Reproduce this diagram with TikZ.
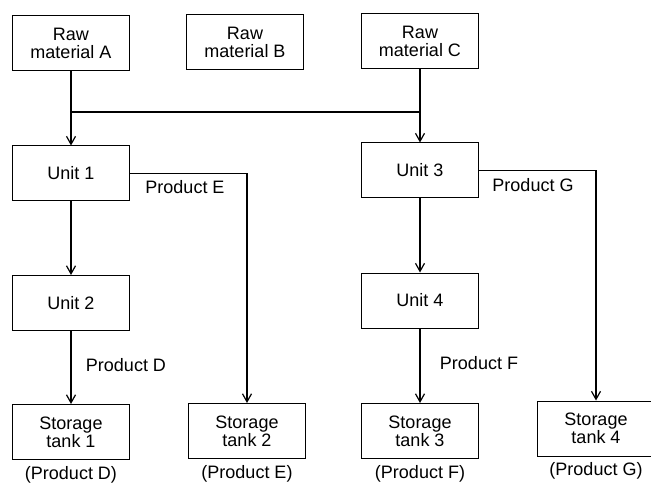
\documentclass[tikz,border=0pt]{standalone}
\usepackage{fontspec}
\setmainfont{Liberation Sans}
\usepackage{tikz}
\usetikzlibrary{positioning,arrows.meta}
\tikzset{
  unitbox/.style={draw,line width=1pt,minimum width=117pt,minimum height=55pt,
    inner sep=0pt,align=center,font=\fontsize{18}{18}\selectfont},
  flow/.style={line width=1.6pt,-{Straight Barb[length=8pt,width=9pt,line width=1.2pt]}},
  pipe/.style={line width=1.6pt},
  prodlabel/.style={font=\fontsize{18}{18}\selectfont,inner sep=0pt}
}

\begin{document}
\begin{tikzpicture}[x=1pt,y=-1pt]
\useasboundingbox (0,0) rectangle (651,484);
\node[unitbox] (rawA) at (71,43) {Raw\\material A};
\node[unitbox] (rawB) at (245,42) {Raw\\material B};
\node[unitbox] (rawC) at (420,41) {Raw\\material C};
\node[unitbox] (unit1) at (71,173.5) {Unit 1};
\node[unitbox] (unit2) at (71,303) {Unit 2};
\node[unitbox] (unit3) at (420,170.5) {Unit 3};
\node[unitbox] (unit4) at (420,300.5) {Unit 4};
\node[unitbox] (tank1) at (71,432) {Storage\\tank 1};
\node[unitbox] (tank2) at (247,431) {Storage\\tank 2};
\node[unitbox] (tank3) at (420,431) {Storage\\tank 3};
\node[unitbox] (tank4) at (596,428.5) {Storage\\tank 4};
\node[prodlabel,below=6pt of tank1] (capD) {(Product D)};
\node[prodlabel,below=6pt of tank2] (capE) {(Product E)};
\node[prodlabel,below=6pt of tank3] (capF) {(Product F)};
\node[prodlabel,below=6pt of tank4] (capG) {(Product G)};
\coordinate (bus) at (0,112);
\draw[pipe] (rawA.south |- bus) -- (rawC.south |- bus);
\draw[flow] (rawA) -- (unit1);
\draw[flow] (rawC) -- (unit3);
\draw[flow] (unit1) -- (unit2);
\draw[flow] (unit3) -- (unit4);
\draw[flow] (unit2) -- (tank1);
\draw[flow] (unit4) -- (tank3);
\draw[flow] (unit1.east) -| (tank2.north);
\draw[flow] (unit3.east) -| (tank4.north);
\node[prodlabel] (lblD) at (126,365) {Product D};
\node[prodlabel] (lblE) at (185,187) {Product E};
\node[prodlabel] (lblF) at (479,363) {Product F};
\node[prodlabel] (lblG) at (533,185) {Product G};
\end{tikzpicture}
\end{document}
